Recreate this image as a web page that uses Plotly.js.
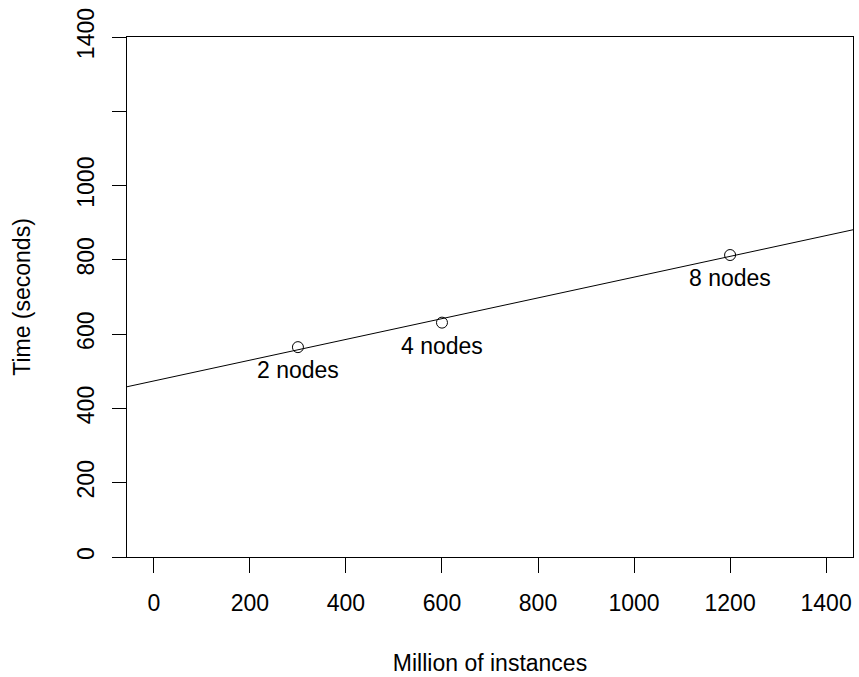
<!DOCTYPE html>
<html>
<head>
<meta charset="utf-8">
<script src="https://cdn.plot.ly/plotly-3.0.1.min.js"></script>
<style>html,body{margin:0;padding:0;background:#fff;}#chart{width:859px;height:677px;}</style>
</head>
<body>
<div id="chart"></div>
<script>
// Data
const instances = [300, 600, 1200];          // Million of instances
const times = [565, 631, 813];               // Time (seconds)
const labels = ["2 nodes", "4 nodes", "8 nodes"];
const xRange = [-56, 1456];
const yRange = [0, 1400];
const xTicks = [0, 200, 400, 600, 800, 1000, 1200, 1400];
const yTicks = [0, 200, 400, 600, 800, 1000, 1200, 1400];
const yTickText = ["0", "200", "400", "600", "800", "1000", "", "1400"];

// Least-squares fit (as abline(lm(...)) in the original)
const n = instances.length;
const mx = instances.reduce((a, b) => a + b, 0) / n;
const my = times.reduce((a, b) => a + b, 0) / n;
let sxy = 0, sxx = 0;
for (let i = 0; i < n; i++) {
  sxy += (instances[i] - mx) * (times[i] - my);
  sxx += (instances[i] - mx) ** 2;
}
const slope = sxy / sxx;
const intercept = my - slope * mx;

const font = {family: "'Liberation Sans', Arial, sans-serif", size: 23, color: "#000"};

const traces = [
  {
    x: xRange,
    y: xRange.map(v => intercept + slope * v),
    mode: "lines",
    line: {color: "#000", width: 1},
    hoverinfo: "skip",
    showlegend: false
  },
  {
    x: instances,
    y: times,
    mode: "markers",
    marker: {symbol: "circle-open", size: 11, color: "#000", line: {width: 1, color: "#000"}},
    showlegend: false
  }
];

const annotations = instances.map((x, i) => ({
  x: x, y: times[i], xref: "x", yref: "y",
  text: labels[i], showarrow: false,
  yshift: -23, xanchor: "center", yanchor: "middle",
  font: font
}));

const layout = {
  width: 859, height: 677,
  margin: {l: 127, r: 6, t: 37, b: 120},
  paper_bgcolor: "#fff", plot_bgcolor: "#fff",
  font: font,
  showlegend: false,
  annotations: annotations,
  xaxis: {
    range: xRange, tickmode: "array", tickvals: xTicks,
    ticks: "outside", ticklen: 15, tickwidth: 1, tickcolor: "#000",
    showline: true, linecolor: "#000", linewidth: 1, mirror: true,
    showgrid: false, zeroline: false,
    ticklabelstandoff: 10,
    tickfont: font,
    title: {text: "Million of instances", font: font, standoff: 40},
    automargin: false
  },
  yaxis: {
    range: yRange, tickmode: "array", tickvals: yTicks, ticktext: yTickText,
    tickangle: -90,
    ticks: "outside", ticklen: 14, tickwidth: 1, tickcolor: "#000",
    showline: true, linecolor: "#000", linewidth: 1, mirror: true,
    showgrid: false, zeroline: false,
    ticklabelstandoff: 9,
    tickfont: font,
    title: {text: "Time (seconds)", font: font, standoff: 35},
    automargin: false
  }
};

Plotly.newPlot("chart", traces, layout, {displayModeBar: false, staticPlot: true});
</script>
</body>
</html>
